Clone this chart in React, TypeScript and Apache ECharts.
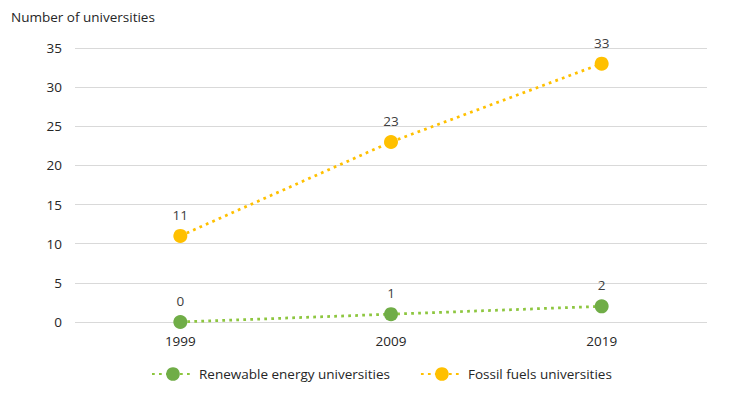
import React, { useEffect, useRef } from "react";
import * as echarts from "echarts";

const years = ["1999", "2009", "2019"];
const renewable = [0, 1, 2];
const fossil = [11, 23, 33];
const yTitle = "Number of universities";

export default function App() {
  const ref = useRef<HTMLDivElement>(null);
  useEffect(() => {
    const chart = echarts.init(ref.current!, null, { renderer: "svg" });
    const font = "'Open Sans', 'Noto Sans', sans-serif";
    const dotted = { width: 2.75, type: [2.75, 4.25], cap: "butt" };
    chart.setOption({
      animation: false,
      textStyle: { fontFamily: font },
      grid: { left: 67, right: 19, top: 40, bottom: 66 },
      graphic: [
        {
          type: "text",
          left: 3,
          top: 2,
          style: { text: yTitle, fontSize: 13.5, fill: "#262626", fontFamily: font },
        },
      ],
      legend: {
        bottom: 2,
        left: 138,
        itemGap: 30,
        itemWidth: 42,
        itemHeight: 17,
        textStyle: { fontSize: 13.5, color: "#262626", fontFamily: font },
        data: ["Renewable energy universities", "Fossil fuels universities"],
      },
      xAxis: {
        type: "category",
        data: years,
        boundaryGap: true,
        axisLine: { show: false },
        axisTick: { show: false },
        axisLabel: { fontSize: 13.5, color: "#262626", margin: 12 },
      },
      yAxis: {
        type: "value",
        min: 0,
        max: 35,
        interval: 5,
        axisLine: { show: false },
        axisTick: { show: false },
        axisLabel: { fontSize: 13.5, color: "#262626", margin: 13 },
        splitLine: { lineStyle: { color: "#d9d9d9", width: 1 } },
      },
      series: [
        {
          name: "Renewable energy universities",
          type: "line",
          data: renewable,
          symbol: "circle",
          symbolSize: 14,
          itemStyle: { color: "#70ad47" },
          lineStyle: { color: "#8dc63f", ...dotted },
          label: {
            show: true,
            position: "top",
            distance: 7,
            fontSize: 13.5,
            color: "#404040",
          },
        },
        {
          name: "Fossil fuels universities",
          type: "line",
          data: fossil,
          symbol: "circle",
          symbolSize: 14,
          itemStyle: { color: "#ffc000" },
          lineStyle: { color: "#ffc000", ...dotted },
          label: {
            show: true,
            position: "top",
            distance: 7,
            fontSize: 13.5,
            color: "#404040",
          },
        },
      ],
    });
    return () => chart.dispose();
  }, []);
  return <div ref={ref} style={{ width: 718, height: 380 }} />;
}
